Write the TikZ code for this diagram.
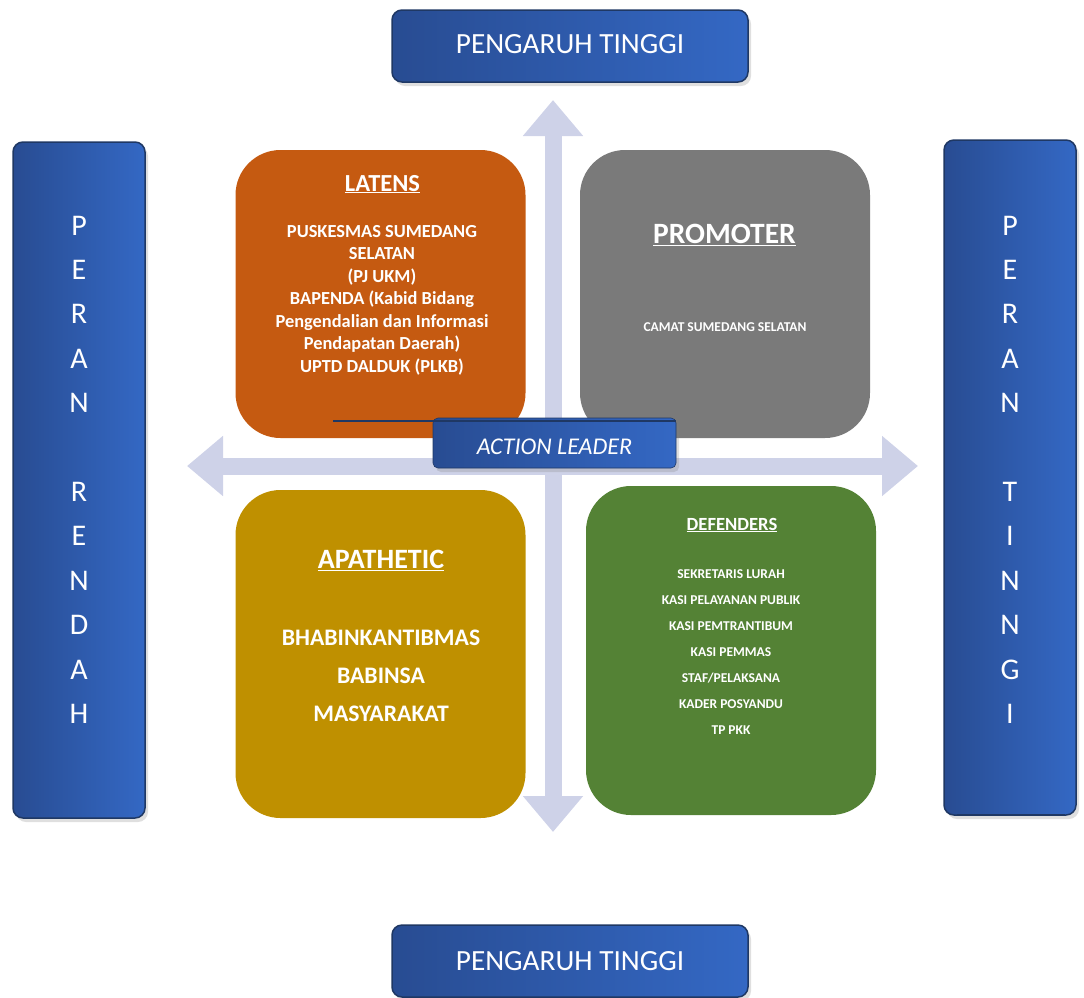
\documentclass[tikz,border=0pt]{standalone}
\usepackage{fontspec}
\setmainfont{Carlito}
\usetikzlibrary{arrows.meta,shadows}

\definecolor{latensorange}{HTML}{C55A11}
\definecolor{promotergray}{HTML}{7A7A7A}
\definecolor{apathgold}{HTML}{BF9000}
\definecolor{defgreen}{HTML}{548235}
\definecolor{axislilac}{HTML}{CED2E8}
\definecolor{bluedark}{HTML}{284C92}
\definecolor{bluelight}{HTML}{3468C4}
\definecolor{navyline}{HTML}{1F3864}

\begin{document}
\begin{tikzpicture}[x=1pt,y=-1pt,
    bluebox/.style={draw=navyline, line width=1.5pt, rounded corners=10pt,
      left color=bluedark, right color=bluelight, text=white, inner sep=0pt,
      drop shadow={shadow xshift=3pt, shadow yshift=-4pt, opacity=.25}},
    quad/.style={rounded corners=45pt, inner sep=0pt, minimum width=290pt},
    axisarrow/.style={draw=axislilac, line width=17pt,
      {Triangle[width=58pt,length=36pt]}-{Triangle[width=58pt,length=36pt]}},
    wtxt/.style={text=white, anchor=base, inner sep=0pt}]
    \useasboundingbox (0,0) rectangle (1084,997);

    % cross of arrows
    \coordinate (axtop) at (553,100);
    \coordinate (axbot) at (553,832);
    \coordinate (axleft) at (187,466);
    \coordinate (axright) at (918,466);
    \draw[axisarrow] (axtop) -- (axbot);
    \draw[axisarrow] (axleft) -- (axright);

    % top and bottom
    \node[bluebox, minimum width=356pt, minimum height=72pt] (infltop) at (570,46) {};
    \node[wtxt, font=\fontsize{29.3}{34}\selectfont] (infltoptxt) at (570,53) {PENGARUH TINGGI};
    \node[bluebox, minimum width=356pt, minimum height=72pt] (inflbot) at (570,961) {};
    \node[wtxt, font=\fontsize{29.3}{34}\selectfont] (inflbottxt) at (570,970) {PENGARUH TINGGI};

    % side bars
    \node[bluebox, minimum width=132pt, minimum height=676pt] (rolelow) at (79,480) {};
    \node[bluebox, minimum width=132pt, minimum height=675pt] (rolehigh) at (1010,477.5) {};
    \foreach \ch [count=\i] in {P,E,R,A,N,,R,E,N,D,A,H}
      \node[wtxt, font=\fontsize{30}{36}\selectfont] (low-\i) at (79,{235+44.4*(\i-1)}) {\ch};
    \foreach \ch [count=\i] in {P,E,R,A,N,,T,I,N,N,G,I}
      \node[wtxt, font=\fontsize{30}{36}\selectfont] (high-\i) at (1010,{235+44.4*(\i-1)}) {\ch};
    \draw[navyline, line width=2pt] (957,815) -- (1065,815);

    % quadrants
    \node[quad, fill=latensorange, minimum height=288pt] (latens) at (380.5,294) {};
    \node[quad, fill=promotergray, minimum height=288pt] (promoter) at (725,294) {};
    \node[quad, fill=apathgold, minimum height=328pt] (apathetic) at (380.5,654) {};
    \node[quad, fill=defgreen, minimum height=329pt] (defenders) at (731,650.5) {};

    % latens
    \node[wtxt, font=\fontsize{24.5}{28}\selectfont\bfseries] (latenstitle) at (382.5,191) {\underline{LATENS}};
    \foreach \txt [count=\i] in {{PUSKESMAS SUMEDANG}, {SELATAN}, {(PJ UKM)}, {BAPENDA (Kabid Bidang},
        {Pengendalian dan Informasi}, {Pendapatan Daerah)}, {UPTD DALDUK (PLKB)}}
      \node[wtxt, font=\fontsize{18.4}{22}\selectfont\bfseries] (lat-\i) at (382,{237.3+22.45*(\i-1)}) {\txt};

    % promoter
    \node[wtxt, font=\fontsize{29.5}{34}\selectfont\bfseries] (promotertitle) at (724.5,243.5) {\underline{PROMOTER}};
    \node[wtxt, font=\fontsize{13.5}{16}\selectfont\bfseries] (camat) at (725,331.5) {CAMAT SUMEDANG SELATAN};

    % apathetic
    \node[wtxt, font=\fontsize{28}{33}\selectfont\bfseries] (apathtitle) at (381,568.5) {\underline{APATHETIC}};
    \foreach \txt [count=\i] in {BHABINKANTIBMAS, BABINSA, MASYARAKAT}
      \node[wtxt, font=\fontsize{23.7}{28}\selectfont\bfseries] (apa-\i) at (381,{645+38*(\i-1)}) {\txt};

    % defenders
    \node[wtxt, font=\fontsize{18.6}{22}\selectfont\bfseries] (deftitle) at (732,530) {\underline{DEFENDERS}};
    \foreach \txt [count=\i] in {SEKRETARIS LURAH, KASI PELAYANAN PUBLIK, KASI PEMTRANTIBUM,
        KASI PEMMAS, STAF/PELAKSANA, KADER POSYANDU, TP PKK}
      \node[wtxt, font=\fontsize{13.5}{16}\selectfont\bfseries] (def-\i) at (731,{578.3+26*(\i-1)}) {\txt};

    % action leader
    \node[bluebox, rounded corners=5pt, line width=.6pt, minimum width=243pt, minimum height=50pt] (leader) at (554.5,443) {};
    \node[wtxt, font=\fontsize{24}{28}\selectfont\itshape] (leadertxt) at (554.5,454) {ACTION LEADER};
    \coordinate (leaderline) at (333,421);
    \draw[navyline, line width=1.5pt] (leaderline) -- (leaderline -| leader.east);
\end{tikzpicture}
\end{document}
